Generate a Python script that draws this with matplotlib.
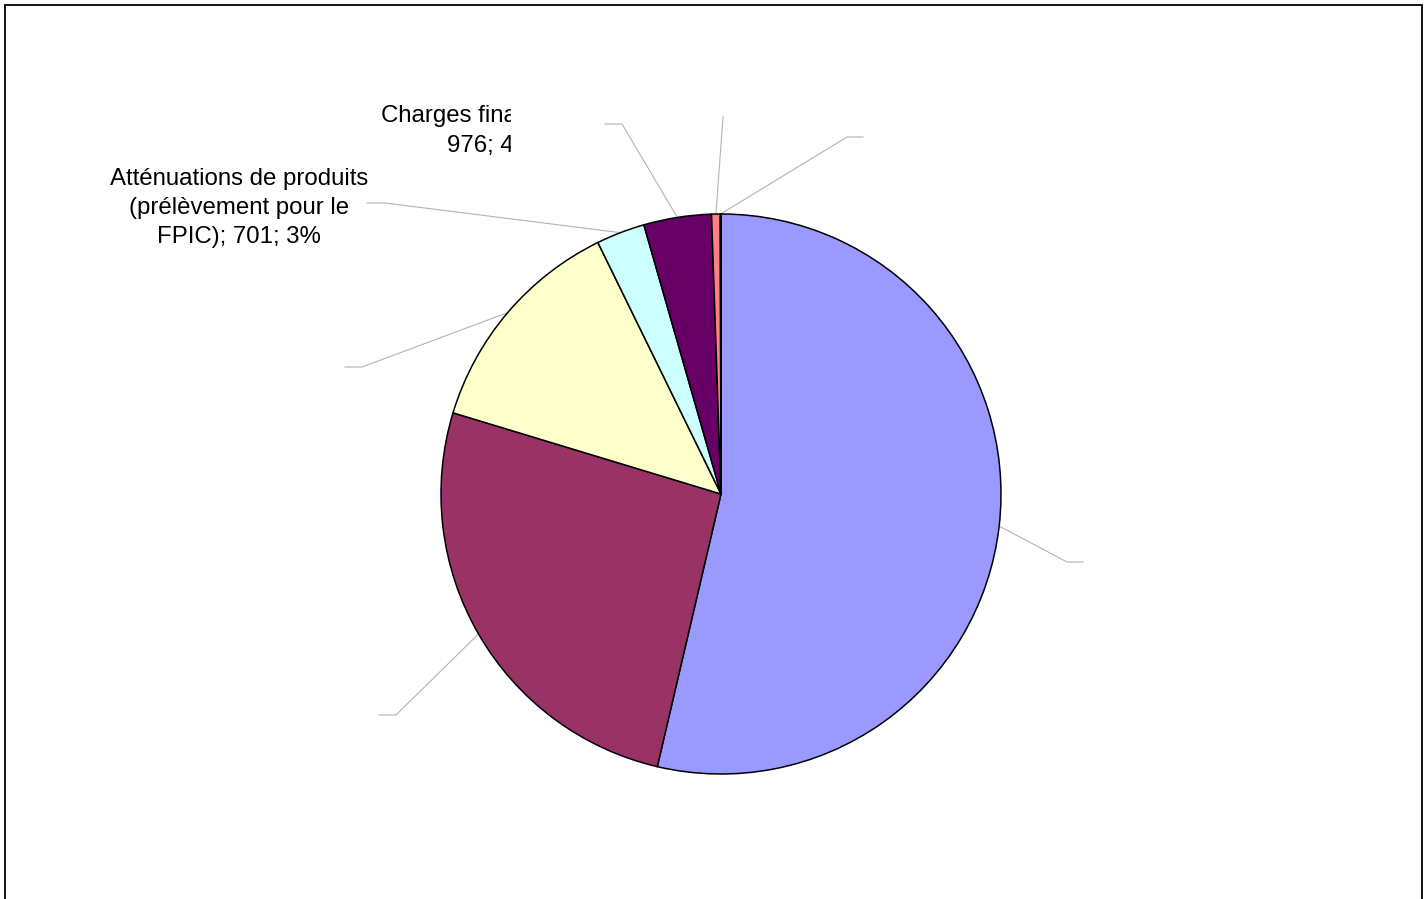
import matplotlib.pyplot as plt
from matplotlib.patches import Rectangle
from matplotlib.transforms import Bbox, TransformedBbox
import numpy as np

plt.rcParams['font.family'] = ['Liberation Sans', 'DejaVu Sans']

# slices, clockwise from 12 o'clock
values = [13420, 6510, 3270, 701, 976, 125, 10]
colors = ['#9999FF', '#993366', '#FFFFCC', '#CCFFFF', '#660066', '#FF8080', '#0066CC']
# only these labels are visible in the reference (the others are hidden)
label_texts = {3: 'Atténuations de produits\n(prélèvement pour le\nFPIC); 701; 3%',
               4: 'Charges financières;\n976; 4%'}

W, H = 1428, 899
fig = plt.figure(figsize=(W / 100, H / 100), dpi=100)
ax = fig.add_axes([0, 0, 1, 1])

cx, cy, R = 721, H - 494, 280
wedges, _ = ax.pie(values, colors=colors, startangle=90, counterclock=False,
                   center=(cx, cy), radius=R,
                   wedgeprops=dict(edgecolor='black', linewidth=1.1))
ax.set_xlim(0, W)
ax.set_ylim(0, H)
ax.set_aspect('equal')
ax.axis('off')

# leader lines: bend point and end of the short horizontal (pixel coords, y down)
leaders = [(1067, 562, 1083), (396, 715, 379), (362, 367, 345),
           (385, 203, 367), (622, 124, 605), (723, 117, 723), (847, 137, 863)]
for w, (bx, by, ex) in zip(wedges, leaders):
    mid = np.deg2rad((w.theta1 + w.theta2) / 2)
    px, py = cx + R * np.cos(mid), cy + R * np.sin(mid)
    ax.plot([px, bx, ex], [py, H - by, H - by], color='#b3b3b3', lw=0.8,
            zorder=0)

t1 = ax.text(239, H - 208, label_texts[3], ha='center', va='center',
             fontsize=17.3, linespacing=1.4)
t2 = ax.text(491, H - 131, label_texts[4], ha='center', va='center',
             fontsize=17.3, linespacing=1.5)
# the second label is cut off on the right in the reference
t2.set_clip_box(TransformedBbox(Bbox([[360, H - 175], [511, H - 80]]),
                                ax.transData))
t2.set_clip_on(True)

# outer frame (bottom edge runs off the picture)
fig.add_artist(Rectangle((5 / W, -0.05), (1422 - 5) / W, (H - 5) / H + 0.05,
                         transform=fig.transFigure, fill=False,
                         edgecolor='black', linewidth=1.3))

fig.savefig('out.png', dpi=100)
